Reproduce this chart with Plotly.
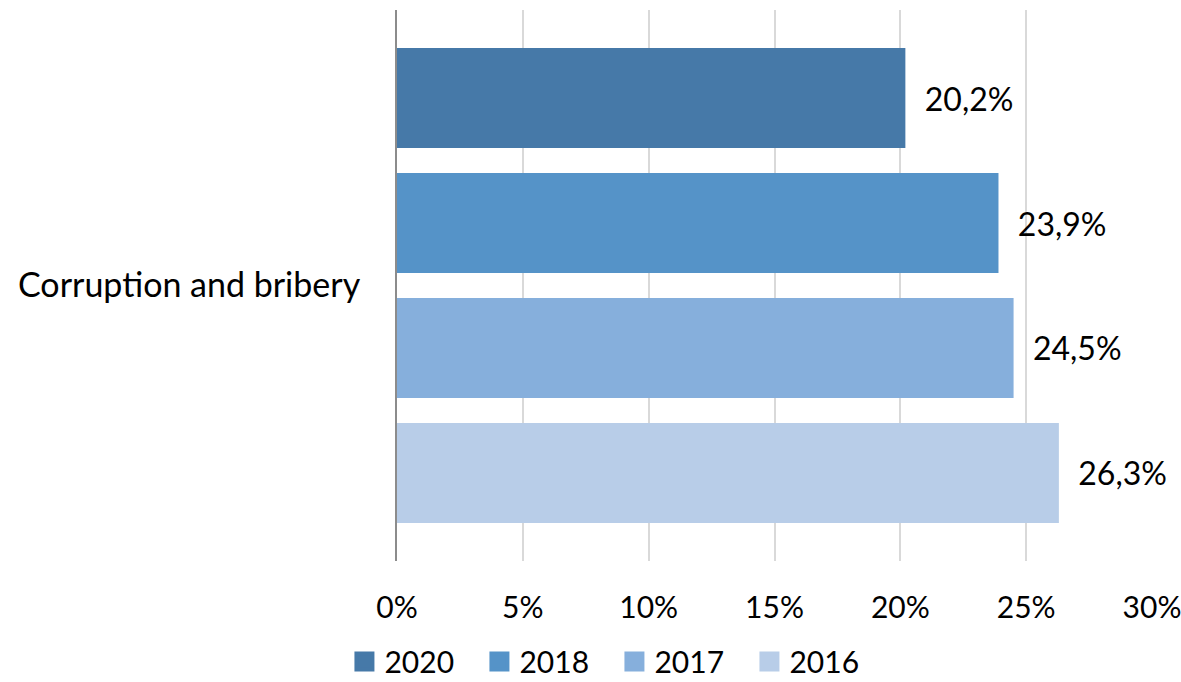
import plotly.graph_objects as go

category = ["Corruption and bribery"]
years = ["2016", "2017", "2018", "2020"]
values = [26.3, 24.5, 23.9, 20.2]
colors = ["#b8cde8", "#86afdc", "#5593c8", "#4679a8"]
x_ticks = [0, 5, 10, 15, 20, 25, 30]

FONT = "Lato, Calibri, sans-serif"

fig = go.Figure()
for year, val, col in zip(years, values, colors):
    fig.add_trace(go.Bar(
        name=year,
        y=category,
        x=[val],
        orientation="h",
        marker=dict(color=col, line=dict(width=0)),
        texttemplate="\u00a0\u00a0%{x:.1f}%",
        textposition="outside",
        textfont=dict(family=FONT, size=32, color="#000000"),
        cliponaxis=False,
        showlegend=False,
    ))

# legend entries with larger square swatches
for year, col in zip(years, colors):
    fig.add_trace(go.Scatter(
        name=year,
        x=[None], y=[None],
        mode="markers",
        marker=dict(symbol="square", size=16, color=col,
                    line=dict(width=4, color=col)),
        showlegend=True,
        hoverinfo="skip",
    ))

fig.update_layout(
    width=1181,
    height=682,
    barmode="group",
    bargap=0.0926,
    bargroupgap=0.2,
    separators=", ",
    paper_bgcolor="white",
    plot_bgcolor="white",
    margin=dict(l=397, r=29, t=10, b=121, autoexpand=False),
    font=dict(family=FONT, size=28, color="#000000"),
    showlegend=True,
    legend=dict(
        orientation="h",
        traceorder="reversed",
        x=0.288, xanchor="center", xref="paper",
        y=0.03, yanchor="middle", yref="container",
        font=dict(family=FONT, size=30, color="#000000"),
        itemwidth=30,
        entrywidth=90,
        entrywidthmode="pixels",
        tracegroupgap=0,
    ),
    xaxis=dict(
        range=[0, 30],
        tickvals=x_ticks,
        ticktext=[f"{t}%" for t in x_ticks],
        showgrid=True,
        gridcolor="#d9d9d9",
        gridwidth=2,
        zeroline=False,
        showline=False,
        ticks="",
        ticklabelstandoff=26,
        ticklabeloverflow="allow",
        tickfont=dict(family=FONT, size=30, color="#000000"),
        automargin=False,
        fixedrange=True,
    ),
    yaxis=dict(
        showline=True,
        linecolor="#8c8c8c",
        linewidth=2,
        showgrid=False,
        ticks="",
        ticklabelstandoff=28,
        tickfont=dict(family=FONT, size=34, color="#000000"),
        automargin=False,
        fixedrange=True,
    ),
)

fig.write_html("out.html")
